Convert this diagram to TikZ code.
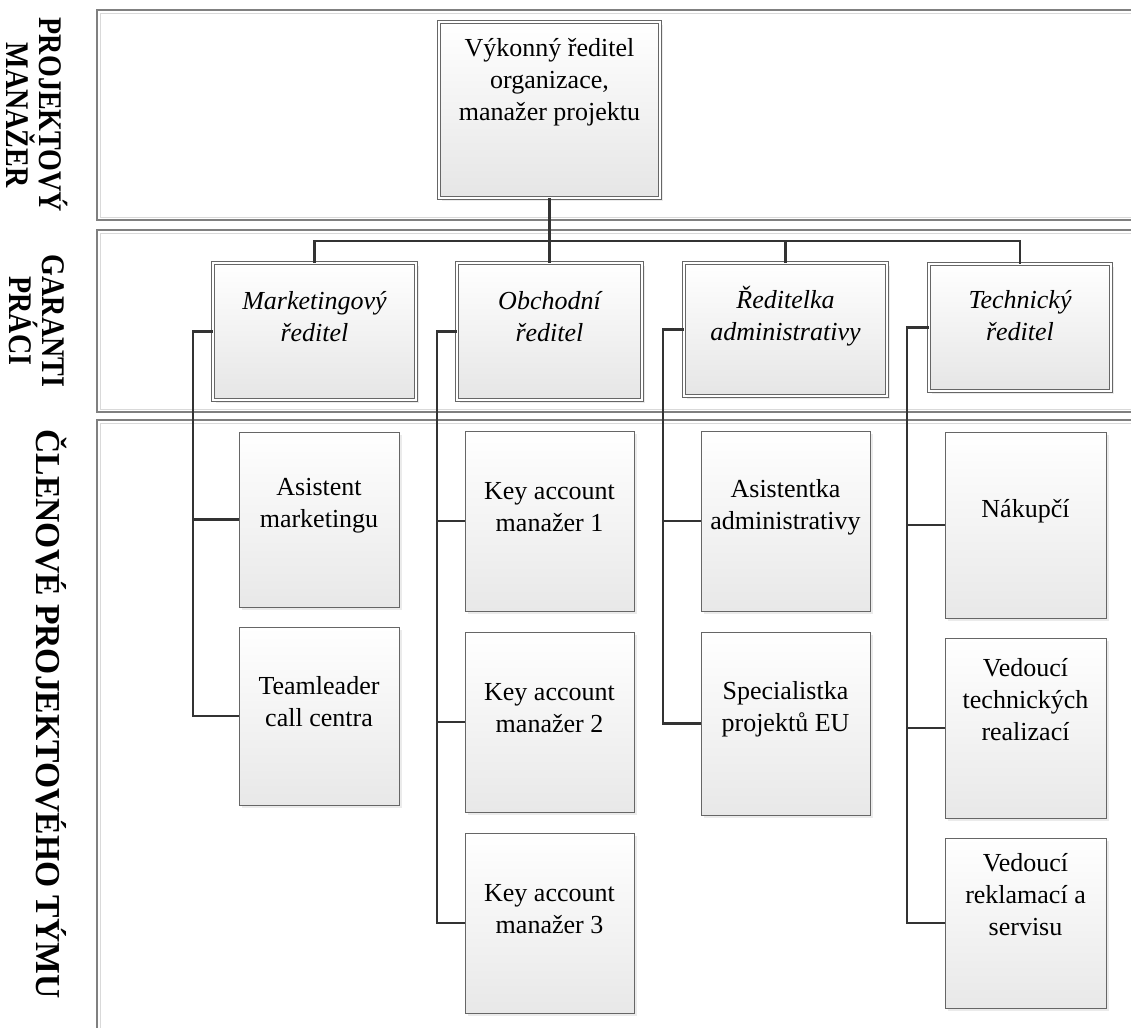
\documentclass[tikz,border=0pt]{standalone}
\usepackage{fontspec}
\setmainfont{Liberation Serif}
\newfontfamily\bandfont[FakeStretch=0.85]{Liberation Serif}
\newfontfamily\bandwidefont[FakeStretch=0.96]{Liberation Serif}
\usetikzlibrary{shadows}

\begin{document}
\begin{tikzpicture}[x=1pt,y=-1pt,
  band/.style={draw=black!50,line width=1.2pt},
  bandin/.style={draw=black!15,line width=0.8pt},
  bandlbl/.style={rotate=-90,align=center,inner sep=0pt,font=\bandfont\bfseries\fontsize{33}{33}\selectfont},
  boxtext/.style={align=center,inner sep=0pt,font=\fontsize{26}{32}\selectfont,yshift=14pt},
  shadowed/.style={drop shadow={shadow xshift=3pt,shadow yshift=-3pt,fill=black!15}},
  chief/.style={draw=black!60,line width=0.9pt,double=white,double distance=2.6pt,
    top color=white,bottom color=black!10,shadowed,inner sep=0pt},
  member/.style={draw=black!60,line width=1pt,top color=white,bottom color=black!9,
    shadowed,minimum height=180pt,inner sep=0pt},
  conn/.style={draw=black!80,line width=2.4pt}
]
\useasboundingbox (0,0) rectangle (1131,1027);
\fill[white] (0,0) rectangle (1131,1027);
\clip (0,0) rectangle (1131,1027);

% bands
\draw[band] (1145,10) -- (97,10) -- (97,220) -- (1145,220);
\draw[bandin] (1145,13) -- (100,13) -- (100,217) -- (1145,217);
\draw[band] (1145,230) -- (97,230) -- (97,412) -- (1145,412);
\draw[bandin] (1145,233) -- (100,233) -- (100,409) -- (1145,409);
\draw[band] (1145,420) -- (97,420) -- (97,1040);
\draw[bandin] (1145,423) -- (100,423) -- (100,1040);

\node[bandlbl] (lpm) at (37,115) {PROJEKTOVÝ\\MANAŽER};
\node[bandlbl] (lgp) at (37,321) {GARANTI\\PRÁCI};
\node[bandlbl,font=\bandwidefont\bfseries\fontsize{35}{35}\selectfont] (lct) at (51,714) {ČLENOVÉ PROJEKTOVÉHO TÝMU};

% top
\node[chief,minimum width=220.8pt,minimum height=175.8pt,
  label={[boxtext,yshift=14pt]center:{Výkonný ředitel\\organizace,\\manažer projektu}}] (ceo) at (549.5,110) {};

% garants
\node[chief,minimum width=202.8pt,minimum height=136.8pt,
  label={[boxtext,yshift=1pt,font=\itshape\fontsize{26}{32}\selectfont]center:{Marketingový\\ředitel}}] (gm) at (314.5,331.5) {};
\node[chief,minimum width=184.8pt,minimum height=136.8pt,
  label={[boxtext,yshift=1pt,font=\itshape\fontsize{26}{32}\selectfont]center:{Obchodní\\ředitel}}] (go) at (549.5,331.5) {};
\node[chief,minimum width=202.8pt,minimum height=132.8pt,
  label={[boxtext,yshift=-1pt,font=\itshape\fontsize{26}{32}\selectfont]center:{Ředitelka\\administrativy}}] (gr) at (785.5,329.5) {};
\node[chief,minimum width=181.8pt,minimum height=126.8pt,
  label={[boxtext,yshift=-2pt,font=\itshape\fontsize{26}{32}\selectfont]center:{Technický\\ředitel}}] (gt) at (1020,327.5) {};

% members
\node[member,minimum width=160pt,minimum height=175pt,
  label={[boxtext]center:{Asistent\\marketingu}}] (am) at (319,519.5) {};
\node[member,minimum width=160pt,minimum height=178pt,
  label={[boxtext]center:{Teamleader\\call centra}}] (tl) at (319,716) {};

\node[member,minimum width=169pt,
  label={[boxtext]center:{Key account\\manažer 1}}] (k1) at (549.5,521) {};
\node[member,minimum width=169pt,
  label={[boxtext]center:{Key account\\manažer 2}}] (k2) at (549.5,722) {};
\node[member,minimum width=169pt,
  label={[boxtext]center:{Key account\\manažer 3}}] (k3) at (549.5,923) {};

\node[member,minimum width=169pt,
  label={[boxtext]center:{Asistentka\\administrativy}}] (aa) at (785.5,521) {};
\node[member,minimum width=169pt,minimum height=183pt,
  label={[boxtext]center:{Specialistka\\projektů EU}}] (se) at (785.5,723.5) {};

\node[member,minimum width=161pt,minimum height=186pt,
  label={[boxtext]center:Nákupčí}] (nk) at (1025.5,525) {};
\node[member,minimum width=161pt,
  label={[boxtext,yshift=14pt]center:{Vedoucí\\technických\\realizací}}] (vt) at (1025.5,728) {};
\node[member,minimum width=161pt,minimum height=170pt,
  label={[boxtext,yshift=14pt]center:{Vedoucí\\reklamací a\\servisu}}] (vr) at (1025.5,923) {};

% connectors
\coordinate (bus) at (0,241);
\draw[conn] (ceo.south) -- (go.north);
\draw[conn] (gm.north) |- (bus -| gt.north) -- (gt.north);
\draw[conn] (gr.north) -- (gr.north |- bus);

\coordinate (s1) at (193,0);
\coordinate (s2) at (437,0);
\coordinate (s3) at (663,0);
\coordinate (s4) at (907,0);

\draw[conn] (gm.west) -| (s1 |- tl.west) -- (tl.west);
\draw[conn] (s1 |- am.west) -- (am.west);

\draw[conn] (go.west) -| (s2 |- k3.west) -- (k3.west);
\draw[conn] (s2 |- k1.west) -- (k1.west);
\draw[conn] (s2 |- k2.west) -- (k2.west);

\draw[conn] (gr.west) -| (s3 |- se.west) -- (se.west);
\draw[conn] (s3 |- aa.west) -- (aa.west);

\draw[conn] (gt.west) -| (s4 |- vr.west) -- (vr.west);
\draw[conn] (s4 |- nk.west) -- (nk.west);
\draw[conn] (s4 |- vt.west) -- (vt.west);
\end{tikzpicture}
\end{document}
